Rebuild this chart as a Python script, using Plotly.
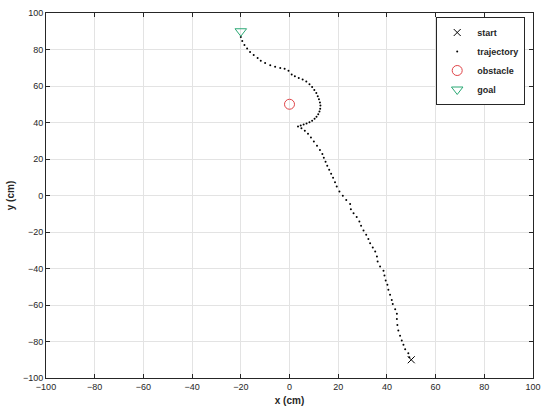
import plotly.graph_objects as go

# start / goal / obstacle positions (cm)
start_x, start_y = [50], [-90]
goal_x, goal_y = [-20], [90]
obstacle_x, obstacle_y = [0], [50]

# trajectory points, from start towards goal (cm)
traj_x = [49.2, 48.8, 47.5, 46.8, 46.1, 45.4, 44.7, 44.3, 44.1, 44.1, 43.4, 42.4, 42.0,
          41.3, 40.6, 40.2, 39.5, 39.0, 38.6, 37.2, 36.2, 35.9, 35.2, 34.2, 33.1, 32.4,
          31.5, 30.4, 29.4, 28.7, 27.6, 26.3, 25.2, 24.9, 23.3, 21.9, 20.5, 19.4, 18.7,
          17.9, 17.1, 16.3, 15.5, 14.8, 14.1, 13.5, 12.5, 11.3, 10.0, 8.8, 7.6, 6.3, 4.9,
          3.5, 4.6, 5.8, 7.0, 8.2, 9.3, 10.3, 11.1, 11.8, 12.3, 12.6, 12.7, 12.5, 12.1,
          11.6, 11.0, 10.2, 9.3, 8.2, 6.9, 5.4, 3.8, 2.2, 0.9, -0.4, -2.0, -3.8, -5.9,
          -7.9, -10.0, -11.8, -13.1, -14.7, -16.2, -17.4, -18.5, -19.4, -20.0]
traj_y = [-88.6, -86.4, -84.2, -81.8, -79.5, -76.9, -74.0, -70.9, -67.7, -64.8, -62.3,
          -59.5, -57.2, -54.4, -51.7, -48.9, -46.6, -43.8, -41.3, -38.9, -36.2, -33.4,
          -30.7, -28.5, -26.1, -23.9, -21.5, -19.2, -16.6, -14.2, -11.8, -9.7, -7.5, -4.7,
          -2.4, -0.2, 2.2, 4.9, 7.3, 9.7, 11.9, 14.1, 16.3, 18.5, 20.7, 22.8, 25.0, 27.2,
          29.6, 31.8, 33.8, 35.5, 36.9, 37.8, 38.4, 38.9, 39.5, 40.2, 41.0, 42.0, 43.2,
          44.5, 46.0, 47.6, 49.3, 51.0, 52.7, 54.4, 56.1, 57.8, 59.5, 61.0, 62.4, 63.5,
          64.4, 65.3, 66.3, 68.3, 69.4, 69.9, 70.5, 71.4, 72.6, 73.8, 75.4, 77.0, 78.6,
          80.5, 82.5, 84.6, 86.8]

ticks = [-100, -80, -60, -40, -20, 0, 20, 40, 60, 80, 100]

fig = go.Figure()

fig.add_trace(go.Scatter(
    x=start_x, y=start_y, mode='markers', name='<b>start</b>',
    marker=dict(symbol='x-thin', size=7, color='black',
                line=dict(color='black', width=1))
))
fig.add_trace(go.Scatter(
    x=traj_x, y=traj_y, mode='markers', name='<b>trajectory</b>',
    marker=dict(symbol='circle', size=2, color='black')
))
fig.add_trace(go.Scatter(
    x=obstacle_x, y=obstacle_y, mode='markers', name='<b>obstacle</b>',
    marker=dict(symbol='circle-open', size=10, color='#e04448',
                line=dict(width=1))
))
fig.add_trace(go.Scatter(
    x=goal_x, y=goal_y, mode='markers', name='<b>goal</b>',
    marker=dict(symbol='triangle-down-open', size=10, color='#2aa874',
                line=dict(width=1))
))

axis_style = dict(
    range=[-100, 100], tickvals=ticks, ticks='inside', ticklen=4,
    tickcolor='#262626', showline=True, linecolor='#262626', linewidth=1,
    mirror='ticks', showgrid=True, gridcolor='#e3e3e3', gridwidth=1,
    zeroline=False, tickfont=dict(size=9, color='#262626'), automargin=False,
)

fig.update_xaxes(**axis_style, title=dict(text='<b>x (cm)</b>', standoff=6,
                                          font=dict(size=10, color='#262626')))
fig.update_yaxes(**axis_style, title=dict(text='<b>y (cm)</b>', standoff=6,
                                          font=dict(size=10, color='#262626')))

fig.update_layout(
    width=550, height=416,
    margin=dict(l=46, r=17, t=13, b=38),
    plot_bgcolor='white', paper_bgcolor='white',
    font=dict(family='Liberation Sans, Arial, sans-serif', color='#262626'),
    legend=dict(
        x=0.984, y=0.989, xanchor='right', yanchor='top',
        bgcolor='white', bordercolor='#262626', borderwidth=1,
        font=dict(size=9, color='#262626'), tracegroupgap=0,
    ),
)

# drop the default page margin so the 550x416 figure fills the window
fig.write_html("out.html", config={'displayModeBar': False},
               post_script="document.body.style.margin='0px';")
